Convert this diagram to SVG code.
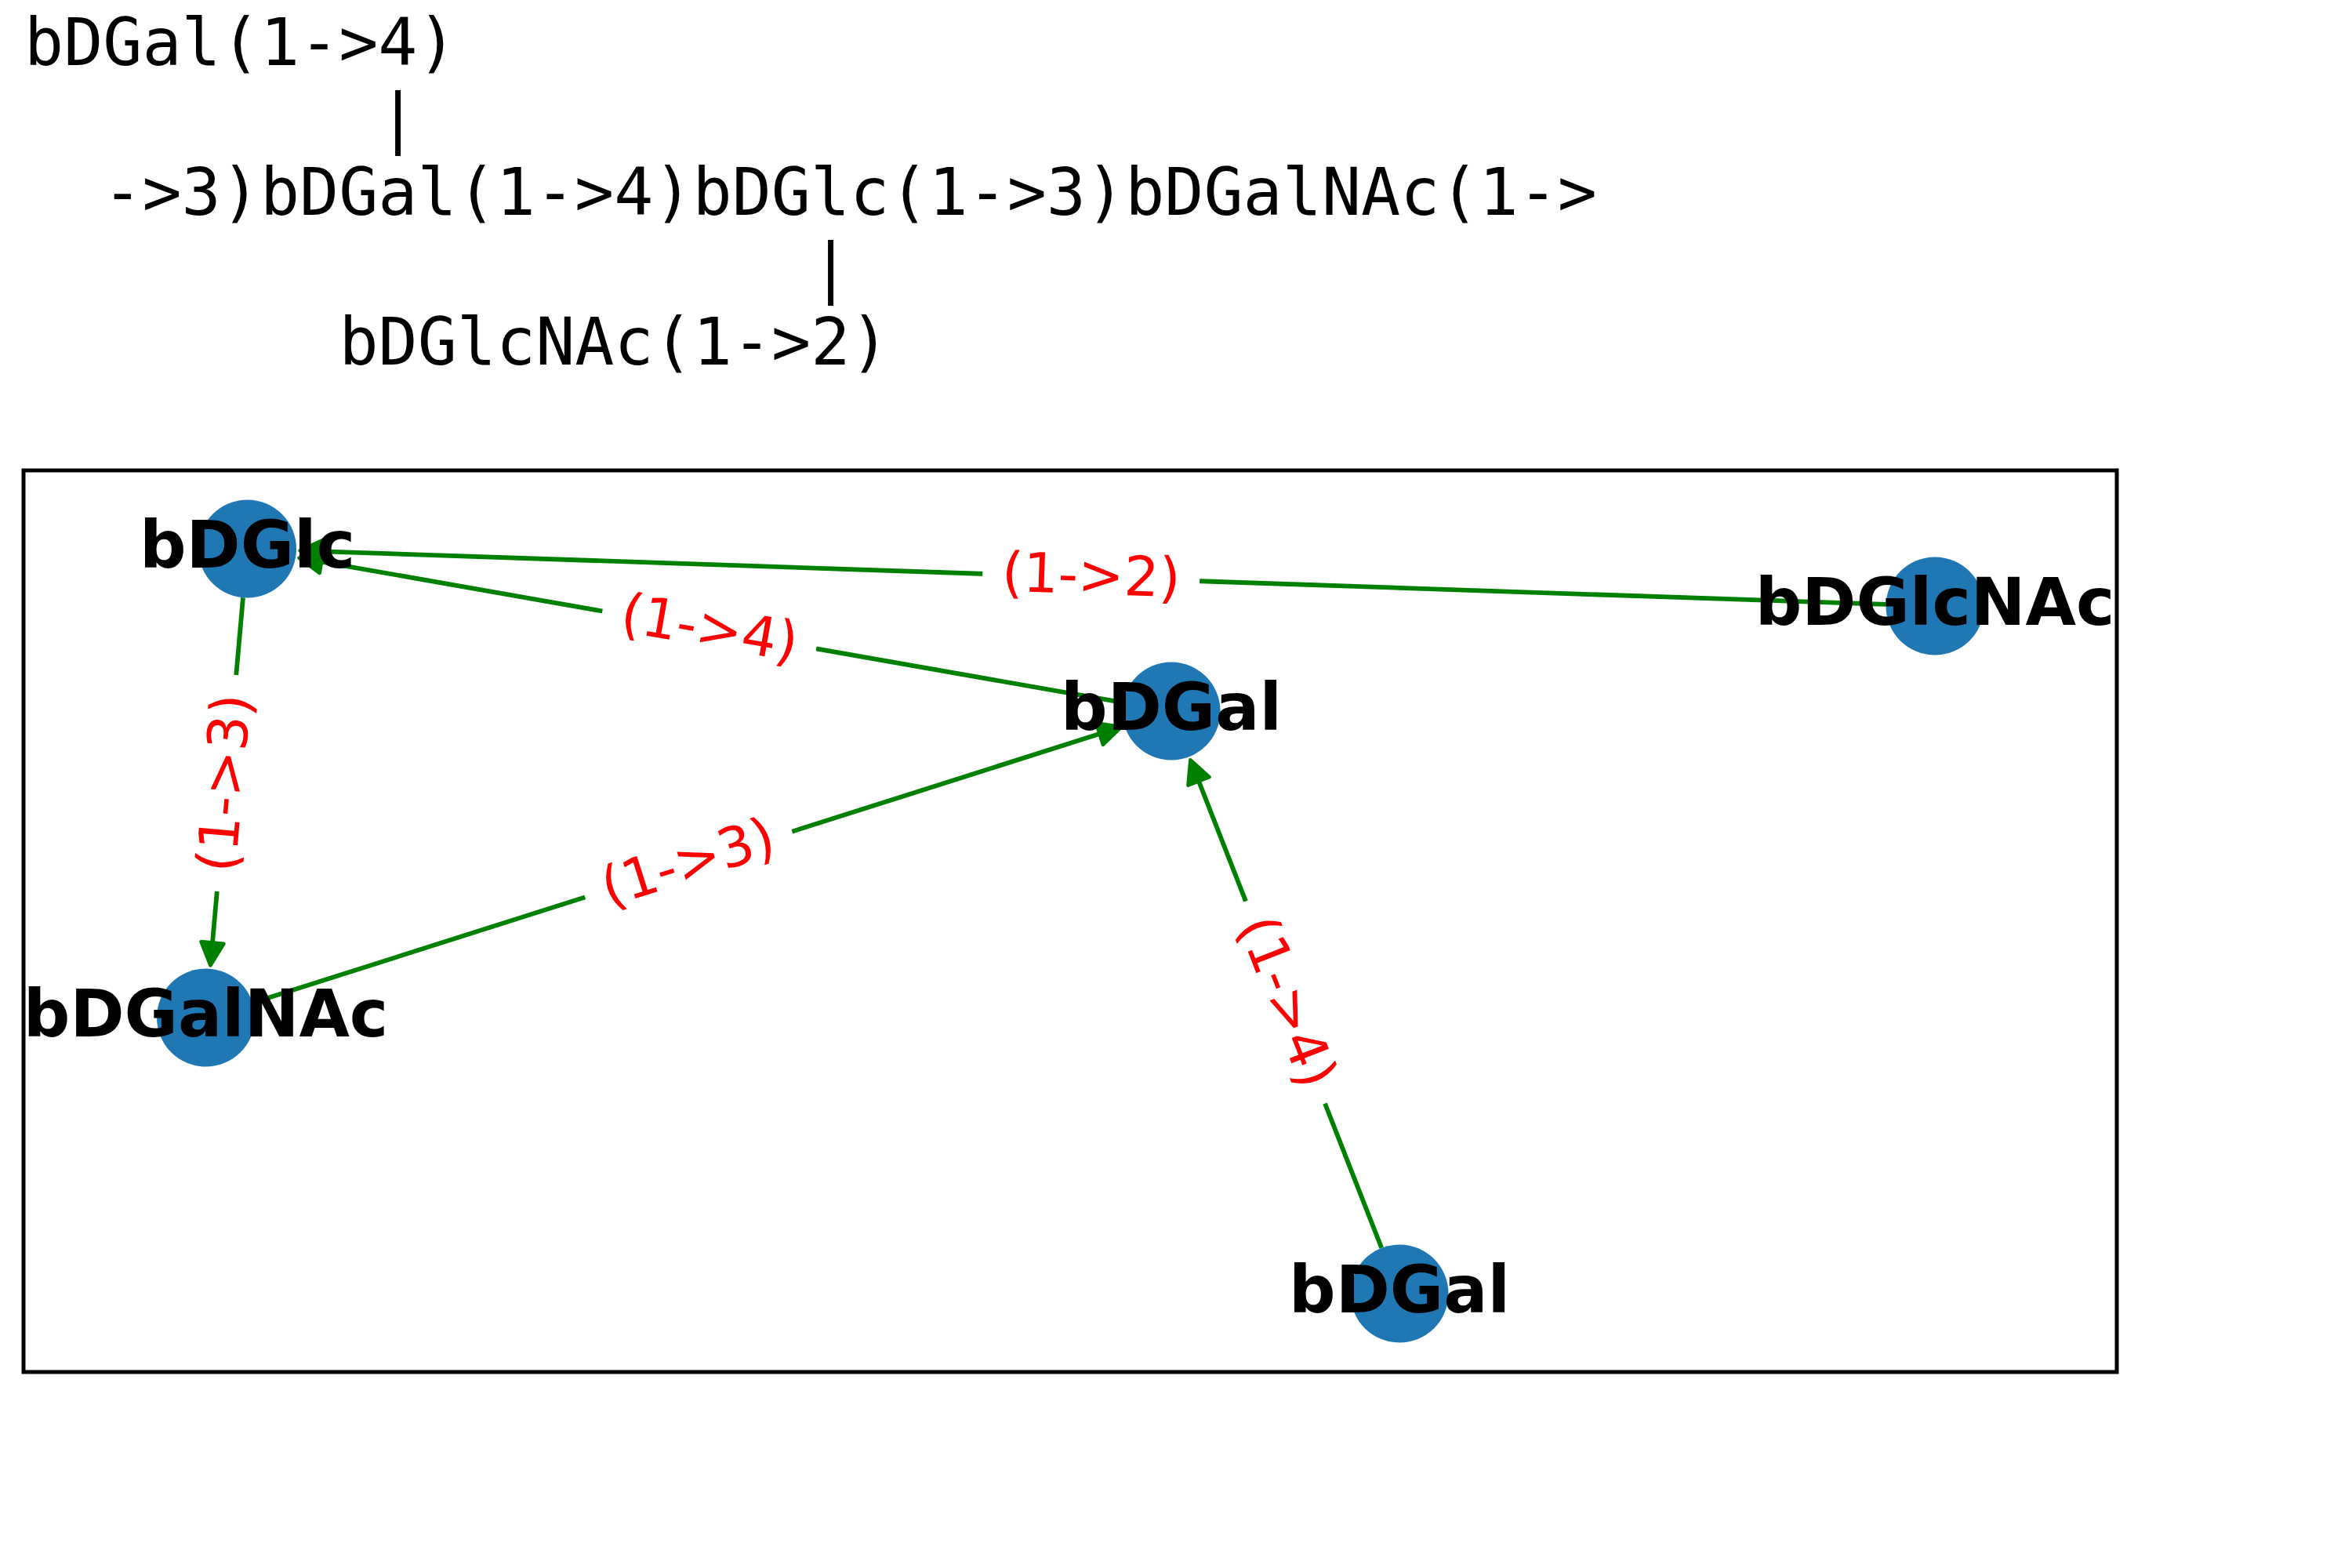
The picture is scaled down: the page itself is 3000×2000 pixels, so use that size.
<svg xmlns="http://www.w3.org/2000/svg" width="3000" height="2000" viewBox="0 0 3000 2000">
<style>
.mono{font-family:"DejaVu Sans Mono","Liberation Mono",monospace;font-size:83.3px;fill:#000}
.edge{stroke:#008000;stroke-width:5.8;fill:none;stroke-linecap:butt}
.head{fill:#008000;stroke:#008000;stroke-width:4.6;stroke-linejoin:round}
.lbg{fill:#fff;stroke:#fff}
.el{font-family:"DejaVu Sans","Liberation Sans",sans-serif;font-size:70px;fill:#ff0000;text-anchor:middle}
.node circle{fill:#1f78b4}
.node text{font-family:"DejaVu Sans","Liberation Sans",sans-serif;font-size:83.3px;font-weight:bold;fill:#000;text-anchor:middle}
.frame{fill:none;stroke:#000;stroke-width:5}
</style>
<rect width="3000" height="2000" fill="#fff"/>
<g id="sequence">
<text class="mono" x="31" y="83.3">bDGal(1-&gt;4)</text>
<text class="mono" x="482.5" y="178.7">|</text>
<text class="mono" x="131.3" y="274.1">-&gt;3)bDGal(1-&gt;4)bDGlc(1-&gt;3)bDGalNAc(1-&gt;</text>
<text class="mono" x="1034.4" y="369.5">|</text>
<text class="mono" x="432.4" y="465">bDGlcNAc(1-&gt;2)</text>
</g>
<rect id="frame" class="frame" x="30" y="600" width="2670" height="1150"/>
<g id="connectors">
<line class="edge" x1="2405.5" y1="770.9" x2="411.4" y2="703.3"/>
<polygon class="head" points="382.5,702.3 411.9,688.8 410.9,717.8"/>
<line class="edge" x1="1432.4" y1="896.2" x2="410.1" y2="716.6"/>
<polygon class="head" points="381.5,711.6 412.6,702.3 407.6,730.9"/>
<line class="edge" x1="310.0" y1="762.3" x2="271.0" y2="1202.4"/>
<polygon class="head" points="268.4,1231.3 256.6,1201.1 285.4,1203.7"/>
<line class="edge" x1="322.1" y1="1279.1" x2="1402.5" y2="936.1"/>
<polygon class="head" points="1430.1,927.3 1406.9,949.9 1398.1,922.3"/>
<line class="edge" x1="1762.2" y1="1591.8" x2="1529.0" y2="996.4"/>
<polygon class="head" points="1518.4,969.4 1542.5,991.1 1515.5,1001.7"/>
<g transform="translate(1391.75,736.5) rotate(1.94)"><rect class="lbg" x="-138" y="-48" width="276" height="96" rx="22"/><text class="el" x="0" y="21">(1-&gt;2)</text></g>
<g transform="translate(904.75,803.5) rotate(9.96)"><rect class="lbg" x="-138" y="-48" width="276" height="96" rx="22"/><text class="el" x="0" y="21">(1-&gt;4)</text></g>
<g transform="translate(878.25,1102.5) rotate(-17.6)"><rect class="lbg" x="-138" y="-48" width="276" height="96" rx="22"/><text class="el" x="0" y="21">(1-&gt;3)</text></g>
<g transform="translate(289,999) rotate(-84.94)"><rect class="lbg" x="-138" y="-48" width="276" height="96" rx="22"/><text class="el" x="0" y="21">(1-&gt;3)</text></g>
<g transform="translate(1639.5,1278.5) rotate(68.6)"><rect class="lbg" x="-138" y="-48" width="276" height="96" rx="22"/><text class="el" x="0" y="21">(1-&gt;4)</text></g>
</g>
<g id="node-bDGlc" class="node"><circle cx="315.5" cy="700" r="62.5"/><text x="315.5" y="724">bDGlc</text></g>
<g id="node-bDGalNAc" class="node"><circle cx="262.5" cy="1298" r="62.5"/><text x="262.5" y="1322">bDGalNAc</text></g>
<g id="node-bDGal-mid" class="node"><circle cx="1494" cy="907" r="62.5"/><text x="1494" y="931">bDGal</text></g>
<g id="node-bDGlcNAc" class="node"><circle cx="2468" cy="773" r="62.5"/><text x="2468" y="797">bDGlcNAc</text></g>
<g id="node-bDGal-bottom" class="node"><circle cx="1785" cy="1650" r="62.5"/><text x="1785" y="1674">bDGal</text></g>
</svg>
